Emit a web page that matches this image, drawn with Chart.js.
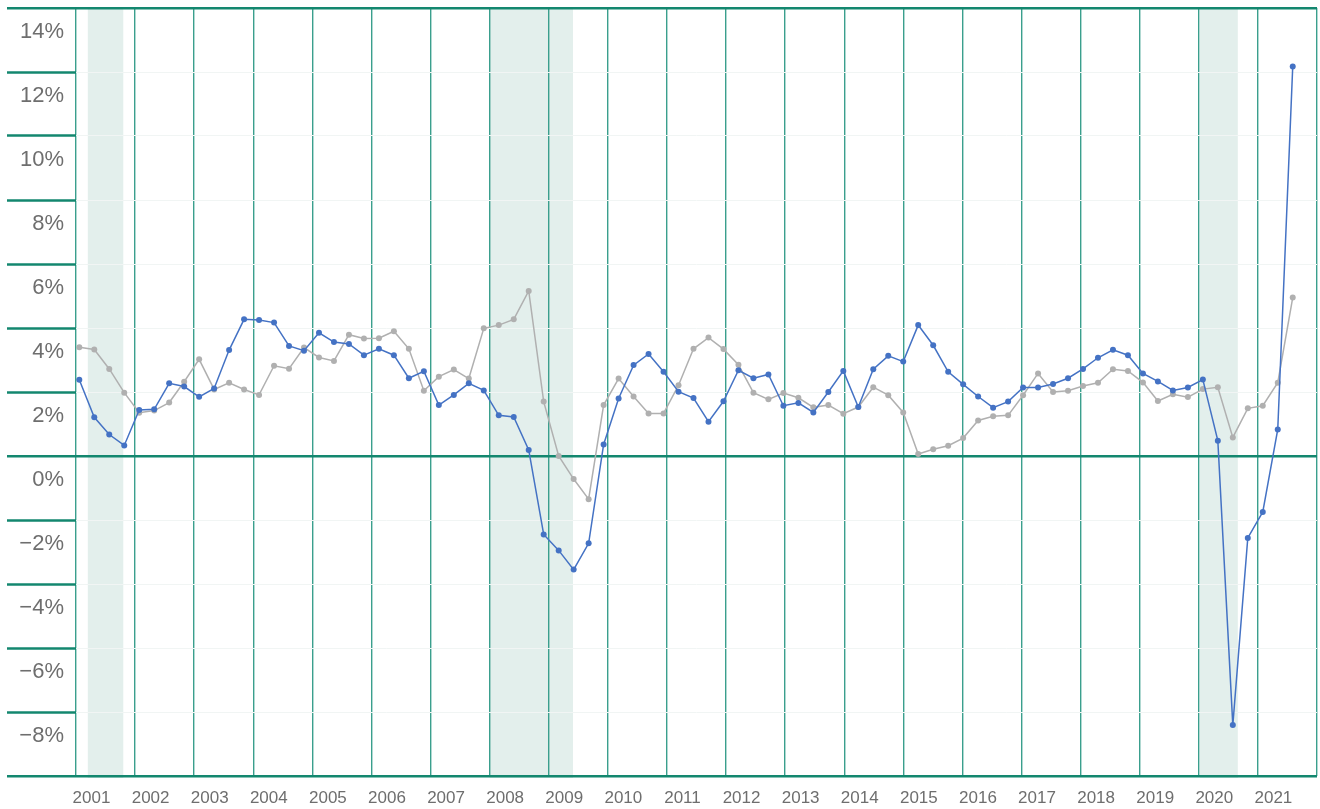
<!DOCTYPE html>
<html>
<head>
<meta charset="utf-8">
<script src="https://cdn.jsdelivr.net/npm/chart.js@4"></script>
<style>
  html, body { margin: 0; padding: 0; background: #ffffff; }
  #wrap { width: 1320px; height: 809px; }
</style>
</head>
<body>
<div id="wrap"><canvas id="c" width="1320" height="809"></canvas></div>
<script>
// Quarterly series, 2001 Q1 .. 2021 Q2
const quarters = [];
for (let y = 2001; y <= 2021; y++) for (let q = 1; q <= 4; q++) quarters.push(y + ' Q' + q);
quarters.length = 82;

const gdpGrowth = [
  2.38, 1.21, 0.67, 0.33,
  1.44, 1.46, 2.27, 2.17,
  1.85, 2.11, 3.31, 4.27,
  4.25, 4.17, 3.44, 3.29,
  3.85, 3.56, 3.50, 3.15,
  3.35, 3.15, 2.43, 2.65,
  1.59, 1.91, 2.27, 2.05,
  1.27, 1.22, 0.19, -2.45,
  -2.95, -3.55, -2.73, 0.36,
  1.80, 2.84, 3.19, 2.63,
  2.01, 1.81, 1.07, 1.71,
  2.68, 2.43, 2.55, 1.57,
  1.66, 1.36, 2.00, 2.66,
  1.53, 2.71, 3.13, 2.95,
  4.09, 3.46, 2.63, 2.24,
  1.86, 1.51, 1.70, 2.14,
  2.14, 2.25, 2.43, 2.72,
  3.07, 3.32, 3.15, 2.58,
  2.33, 2.05, 2.14, 2.39,
  0.48, -8.41, -2.56, -1.75,
  0.83, 12.17
];

const inflation = [
  3.40, 3.33, 2.72, 1.98,
  1.35, 1.42, 1.67, 2.32,
  3.02, 2.08, 2.29, 2.08,
  1.91, 2.82, 2.73, 3.39,
  3.08, 2.97, 3.79, 3.67,
  3.68, 3.90, 3.35, 2.04,
  2.48, 2.70, 2.42, 3.99,
  4.09, 4.27, 5.16, 1.70,
  0.00, -0.72, -1.35, 1.59,
  2.42, 1.86, 1.33, 1.33,
  2.21, 3.35, 3.70, 3.34,
  2.85, 1.98, 1.77, 1.97,
  1.82, 1.52, 1.59, 1.32,
  1.53, 2.15, 1.90, 1.36,
  0.06, 0.21, 0.32, 0.56,
  1.11, 1.24, 1.27, 1.90,
  2.58, 2.00, 2.04, 2.19,
  2.29, 2.71, 2.66, 2.30,
  1.72, 1.93, 1.84, 2.09,
  2.15, 0.58, 1.49, 1.57,
  2.29, 4.95
];

// Year axis
const firstYear = 2001;
const lastYearEdge = 2022;
// Recession shading (in years)
const recessionStarts = [2001.2, 2008.0, 2020.02];
const recessionEnds   = [2001.8, 2009.41, 2020.66];

// Y ticks
const yMin = -10, yMax = 14, yStep = 2;

const DARK = '#13876f';
const GRID = '#3a9f8d';
const FAINT = '#f1f5f4';
const SHADE = '#e3efec';
const LABEL = '#6e6e6e';

const recessionPlugin = {
  id: 'recessions',
  beforeDraw(chart) {
    const xs = chart.scales.x2;
    const area = chart.chartArea;
    const ctx = chart.ctx;
    ctx.save();
    ctx.fillStyle = SHADE;
    for (let i = 0; i < recessionStarts.length; i++) {
      const a = xs.getPixelForValue(recessionStarts[i]);
      const b = xs.getPixelForValue(recessionEnds[i]);
      ctx.fillRect(a, area.top, b - a, area.bottom - area.top + 2);
    }
    ctx.restore();
  }
};

const toPts = arr => arr.map((v, i) => ({ x: i, y: v }));

new Chart(document.getElementById('c'), {
  type: 'line',
  data: {
    datasets: [
      {
        label: 'Real GDP growth',
        data: toPts(gdpGrowth),
        borderColor: '#4472c4',
        backgroundColor: '#4472c4',
        borderWidth: 1.5,
        pointRadius: 3,
        pointBorderWidth: 0,
        pointHoverRadius: 3,
        tension: 0,
        order: 1
      },
      {
        label: 'Inflation',
        data: toPts(inflation),
        borderColor: '#b0b0b0',
        backgroundColor: '#b0b0b0',
        borderWidth: 1.5,
        pointRadius: 3,
        pointBorderWidth: 0,
        pointHoverRadius: 3,
        tension: 0,
        order: 2
      }
    ]
  },
  options: {
    responsive: false,
    animation: false,
    events: [],
    layout: { padding: { top: 8, right: 3, bottom: 0, left: 0 } },
    plugins: { legend: { display: false }, tooltip: { enabled: false } },
    scales: {
      x: {
        type: 'linear',
        display: false,
        min: -0.22,
        max: 82.62
      },
      x2: {
        type: 'linear',
        position: 'bottom',
        min: firstYear,
        max: lastYearEdge,
        afterFit(scale) { scale.height = 33; scale.paddingLeft = 0; scale.paddingRight = 0; },
        ticks: {
          stepSize: 1,
          autoSkip: false,
          maxRotation: 0,
          minRotation: 0,
          labelOffset: 15.5,
          padding: 12,
          color: LABEL,
          font: { family: '"Liberation Sans Narrow", "Arial Narrow", sans-serif', size: 17 },
          callback: v => (v < lastYearEdge ? String(v) : '')
        },
        grid: {
          drawTicks: false,
          color: GRID,
          lineWidth: 1.4
        },
        border: { display: false }
      },
      y: {
        type: 'linear',
        min: yMin,
        max: yMax,
        afterFit(scale) { scale.width = 76; scale.paddingTop = 0; scale.paddingBottom = 0; },
        ticks: {
          stepSize: yStep,
          labelOffset: 24,
          padding: -57,
          color: LABEL,
          font: { family: '"Liberation Sans Narrow", "Arial Narrow", sans-serif', size: 22 },
          callback: v => (v === yMin ? '' : (v < 0 ? '\u2212' + Math.abs(v) : String(v)) + '%')
        },
        grid: {
          drawTicks: true,
          tickLength: 69,
          tickWidth: 2.5,
          tickColor: DARK,
          color: ctx => {
            const v = ctx.tick && ctx.tick.value;
            return (v === 0 || v === yMax || v === yMin) ? DARK : FAINT;
          },
          lineWidth: ctx => {
            const v = ctx.tick && ctx.tick.value;
            return (v === 0 || v === yMax || v === yMin) ? 2.5 : 1;
          }
        },
        border: { display: false }
      }
    }
  },
  plugins: [recessionPlugin]
});
</script>
</body>
</html>
